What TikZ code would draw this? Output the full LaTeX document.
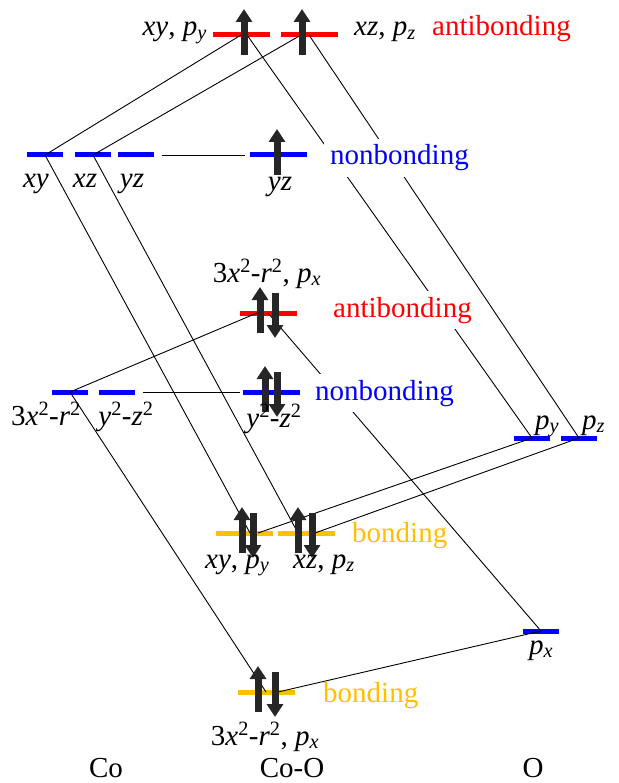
\documentclass[tikz,border=0pt]{standalone}
\usepackage{fontspec}
\setmainfont{Liberation Serif}
\usetikzlibrary{arrows.meta}
\definecolor{abred}{RGB}{255,0,0}
\definecolor{nbblue}{RGB}{0,0,255}
\definecolor{bdorange}{RGB}{255,192,0}
\newcommand{\porb}[1]{\textit{p}\textsubscript{\textit{#1}}}
\newcommand{\dthree}{3\textit{x}\textsuperscript{2}-\textit{r}\textsuperscript{2}}
\newcommand{\dtwo}{\textit{y}\textsuperscript{2}-\textit{z}\textsuperscript{2}}

\begin{document}
\begin{tikzpicture}[
  x=1pt, y=-1pt,
  font=\fontsize{29}{33}\selectfont,
  level/.style={draw=none, fill=#1, inner sep=0pt, minimum height=5pt, minimum width=57pt},
  short/.style={minimum width=36pt},
  edge/.style={draw=black, line width=0.9pt},
  spin/.style={draw=black!85, line width=7pt, -{Triangle[width=16pt,length=13pt]}},
  lbl/.style={inner sep=0pt, anchor=base},
  tag/.style={anchor=base west, inner sep=6pt, fill=white, text=#1}
]
  \useasboundingbox (0,0) rectangle (618,783);

  % Niveles: antienlazantes superiores
  \node[level=abred] (abxy) at (241,35) {};
  \node[level=abred] (abxz) at (309,35) {};

  % Niveles d del Co y no enlazante yz
  \node[level=nbblue, short] (coxy) at (45,155) {};
  \node[level=nbblue, short] (coxz) at (93,155) {};
  \node[level=nbblue, short] (coyz) at (136,155) {};
  \node[level=nbblue] (nbyz) at (278,155) {};

  % Antienlazante 3x2-r2
  \node[level=abred] (abdz) at (268,313) {};

  % Niveles eg del Co y no enlazante y2-z2
  \node[level=nbblue, short] (codz) at (70,392) {};
  \node[level=nbblue, short] (coyy) at (117,392) {};
  \node[level=nbblue] (nbyy) at (271,392) {};

  % Niveles p del O
  \node[level=nbblue, short] (opy) at (532,438) {};
  \node[level=nbblue, short] (opz) at (579,438) {};
  \node[level=nbblue, short] (opx) at (541,631) {};

  % Enlazantes
  \node[level=bdorange] (bdxy) at (244,533) {};
  \node[level=bdorange] (bdxz) at (306,533) {};
  \node[level=bdorange] (bddz) at (266,692) {};

  % Correlaciones xy, xz con p_y, p_z
  \draw[edge] (coxy.center) -- (abxy.center);
  \draw[edge] (coxz.center) -- ([xshift=-8pt]abxz.center);
  \draw[edge] ([xshift=6pt]abxy.center) -- (opy.center);
  \draw[edge] (abxz.center) -- (opz.center);
  \draw[edge] (coxy.center) -- ([xshift=6pt]bdxy.center);
  \draw[edge] (coxz.center) -- ([xshift=-8pt]bdxz.center);
  \draw[edge] ([xshift=14pt]bdxy.center) -- (opy.center);
  \draw[edge] ([xshift=9pt]bdxz.center) -- (opz.center);

  % Correlaciones 3x2-r2 con p_x
  \draw[edge] (codz.center) -- ([xshift=-11pt]abdz.center);
  \draw[edge] (abdz.center) -- (opx.center);
  \draw[edge] (codz.center) -- (bddz.center);
  \draw[edge] ([xshift=12pt]bddz.center) -- (opx.center);

  % No enlazantes
  \draw[edge, shorten <=8pt, shorten >=4pt] (coyz.east) -- (nbyz.west);
  \draw[edge, shorten <=8pt, shorten >=2pt] (coyy.east) -- (nbyy.west);

  % Electrones
  \draw[spin] ([shift={(3,20)}]abxy.center) -- ++(0,-46);
  \draw[spin] ([shift={(-7,20)}]abxz.center) -- ++(0,-46);
  \draw[spin] ([shift={(-1,20)}]nbyz.center) -- ++(0,-46);
  \draw[spin] ([shift={(-8,20)}]abdz.center) -- ++(0,-46);
  \draw[spin] ([shift={(7,-20)}]abdz.center) -- ++(0,45);
  \draw[spin] ([shift={(-6,20)}]nbyy.center) -- ++(0,-46);
  \draw[spin] ([shift={(6,-20)}]nbyy.center) -- ++(0,45);
  \draw[spin] ([shift={(-2,20)}]bdxy.center) -- ++(0,-46);
  \draw[spin] ([shift={(9,-20)}]bdxy.center) -- ++(0,45);
  \draw[spin] ([shift={(-8,20)}]bdxz.center) -- ++(0,-46);
  \draw[spin] ([shift={(6,-20)}]bdxz.center) -- ++(0,45);
  \draw[spin] ([shift={(-8,20)}]bddz.center) -- ++(0,-46);
  \draw[spin] ([shift={(9,-20)}]bddz.center) -- ++(0,45);

  % Etiquetas
  \node[lbl, anchor=base east] (t-abxy) at (207,36) {\textit{xy}, \porb{y}};
  \node[lbl, anchor=base west] (t-abxz) at (354,36) {\textit{xz}, \porb{z}};
  \node[tag=abred] (t-ab1) at (426,36) {antibonding};
  \node[lbl] (t-coxy) at (36,188) {\textit{xy}};
  \node[lbl] (t-coxz) at (85,188) {\textit{xz}};
  \node[lbl] (t-coyz) at (132,188) {\textit{yz}};
  \node[lbl] (t-nbyz) at (280,191) {\textit{yz}};
  \node[tag=nbblue] (t-nb1) at (324,165) {nonbonding};
  \node[lbl] (t-abdz) at (267,282) {\dthree, \porb{x}};
  \node[tag=abred] (t-ab2) at (327,317) {antibonding};
  \node[lbl] (t-codz) at (46,425) {\dthree};
  \node[lbl] (t-coyy) at (126,425) {\dtwo};
  \node[lbl] (t-nbyy) at (274,427) {\dtwo};
  \node[tag=nbblue] (t-nb2) at (309,400) {nonbonding};
  \node[lbl, anchor=base west] (t-opy) at (535,429) {\porb{y}};
  \node[lbl, anchor=base west] (t-opz) at (582,429) {\porb{z}};
  \node[tag=bdorange, fill=none] (t-bd1) at (346,542) {bonding};
  \node[lbl, anchor=base west] (t-bdxy) at (205,568) {\textit{xy}, \porb{y}};
  \node[lbl, anchor=base west] (t-bdxz) at (293,568) {\textit{xz}, \porb{z}};
  \node[lbl] (t-opx) at (541,654) {\porb{x}};
  \node[tag=bdorange, fill=none] (t-bd2) at (317,702) {bonding};
  \node[lbl] (t-bddz) at (265,745) {\dthree, \porb{x}};

  % Columnas
  \node[lbl] (t-co) at (106,777) {Co};
  \node[lbl] (t-coo) at (292,777) {Co-O};
  \node[lbl] (t-o) at (533,777) {O};

\end{tikzpicture}
\end{document}
